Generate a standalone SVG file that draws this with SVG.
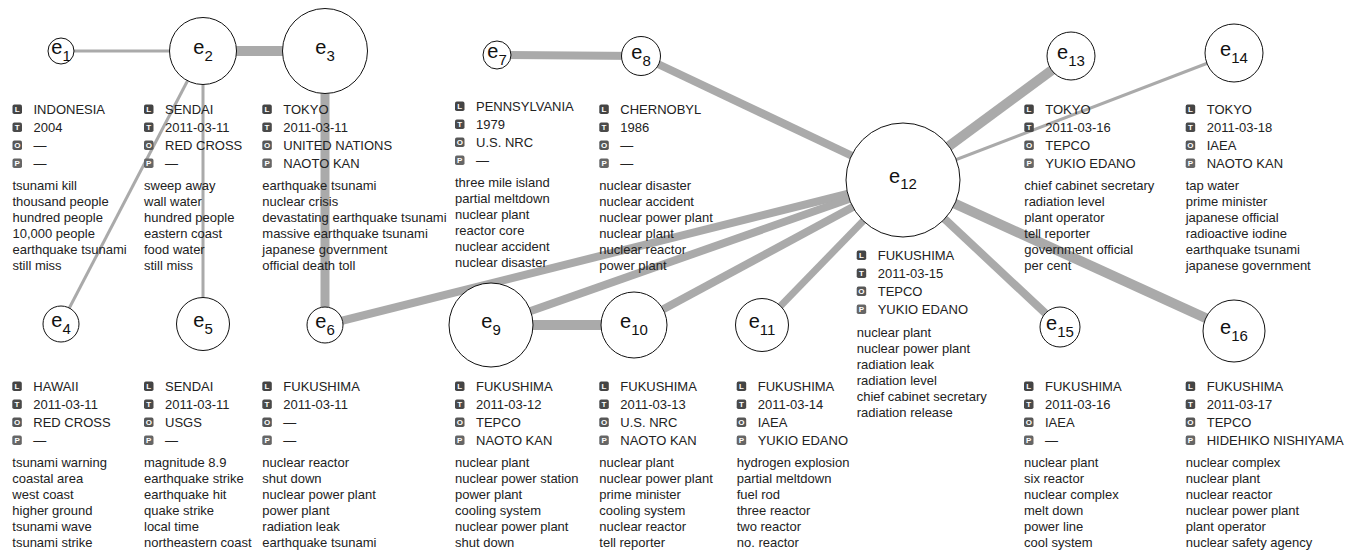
<svg xmlns="http://www.w3.org/2000/svg" width="1352" height="550" viewBox="0 0 1352 550">
<style>
.bg{fill:#fff}
.edge{stroke:#aaaaaa;stroke-linecap:butt;fill:none}
.node{fill:#fff;stroke:#111;stroke-width:1}
.lbl{font-family:"Liberation Sans",Arial,sans-serif;font-size:20px;fill:#111;text-anchor:middle}
.sub{font-size:15px}
.t{font-family:"Liberation Sans",Arial,sans-serif;font-size:13px;fill:#222}
.bL{fill:#444}.bT{fill:#4a4a4a}.bO{fill:#575757}.bP{fill:#666}
.bt{font-family:"Liberation Sans",Arial,sans-serif;font-size:8px;font-weight:bold;fill:#fff;text-anchor:middle}
</style>
<defs>
<g id="badges">
<rect class="bL" x="0" y="-9.4" width="9.5" height="9.5" rx="1.8"/><text class="bt" x="4.75" y="-1.8">L</text>
<rect class="bT" x="0" y="8.6" width="9.5" height="9.5" rx="1.8"/><text class="bt" x="4.75" y="16.2">T</text>
<rect class="bO" x="0" y="26.6" width="9.5" height="9.5" rx="1.8"/><text class="bt" x="4.75" y="34.2">O</text>
<rect class="bP" x="0" y="44.6" width="9.5" height="9.5" rx="1.8"/><text class="bt" x="4.75" y="52.2">P</text>
</g>
</defs>
<rect class="bg" x="0" y="0" width="1352" height="550"/>
<g id="connectors">
<line class="edge" stroke-width="3" x1="61" y1="51" x2="203" y2="51"/>
<line class="edge" stroke-width="10" x1="203" y1="51" x2="325" y2="51"/>
<line class="edge" stroke-width="3" x1="203" y1="51" x2="61" y2="324"/>
<line class="edge" stroke-width="3" x1="203" y1="51" x2="203" y2="324"/>
<line class="edge" stroke-width="9" x1="325" y1="51" x2="325" y2="325"/>
<line class="edge" stroke-width="8" x1="325" y1="325" x2="903" y2="180"/>
<line class="edge" stroke-width="8" x1="497" y1="55" x2="641" y2="56"/>
<line class="edge" stroke-width="8" x1="641" y1="56" x2="903" y2="180"/>
<line class="edge" stroke-width="10" x1="491" y1="325" x2="634" y2="325"/>
<line class="edge" stroke-width="8" x1="491" y1="325" x2="903" y2="180"/>
<line class="edge" stroke-width="8" x1="634" y1="325" x2="903" y2="180"/>
<line class="edge" stroke-width="7" x1="762" y1="325" x2="903" y2="180"/>
<line class="edge" stroke-width="10" x1="903" y1="180" x2="1071" y2="56"/>
<line class="edge" stroke-width="3" x1="903" y1="180" x2="1234" y2="53"/>
<line class="edge" stroke-width="8" x1="903" y1="180" x2="1060" y2="327"/>
<line class="edge" stroke-width="10" x1="903" y1="180" x2="1234" y2="331"/>
</g>

<g id="e1">
<circle class="node" cx="61" cy="51" r="13"/>
<text class="lbl" x="61" y="54">e<tspan class="sub" dy="6.5">1</tspan></text>
<g transform="translate(12.5,114)"><use href="#badges"/>
<text class="t" x="21" y="0">INDONESIA</text><text class="t" x="21" y="18">2004</text><text class="t" x="21" y="36">—</text><text class="t" x="21" y="54">—</text>
<text class="t" x="0" y="76">tsunami kill</text><text class="t" x="0" y="92">thousand people</text><text class="t" x="0" y="108">hundred people</text><text class="t" x="0" y="124">10,000 people</text><text class="t" x="0" y="140">earthquake tsunami</text><text class="t" x="0" y="156">still miss</text></g>
</g>

<g id="e2">
<circle class="node" cx="203" cy="51" r="33.5"/>
<text class="lbl" x="203" y="54">e<tspan class="sub" dy="6.5">2</tspan></text>
<g transform="translate(144,114)"><use href="#badges"/>
<text class="t" x="21" y="0">SENDAI</text><text class="t" x="21" y="18">2011-03-11</text><text class="t" x="21" y="36">RED CROSS</text><text class="t" x="21" y="54">—</text>
<text class="t" x="0" y="76">sweep away</text><text class="t" x="0" y="92">wall water</text><text class="t" x="0" y="108">hundred people</text><text class="t" x="0" y="124">eastern coast</text><text class="t" x="0" y="140">food water</text><text class="t" x="0" y="156">still miss</text></g>
</g>

<g id="e3">
<circle class="node" cx="325" cy="51" r="42.5"/>
<text class="lbl" x="325" y="54">e<tspan class="sub" dy="6.5">3</tspan></text>
<g transform="translate(262.3,114)"><use href="#badges"/>
<text class="t" x="21" y="0">TOKYO</text><text class="t" x="21" y="18">2011-03-11</text><text class="t" x="21" y="36">UNITED NATIONS</text><text class="t" x="21" y="54">NAOTO KAN</text>
<text class="t" x="0" y="76">earthquake tsunami</text><text class="t" x="0" y="92">nuclear crisis</text><text class="t" x="0" y="108">devastating earthquake tsunami</text><text class="t" x="0" y="124">massive earthquake tsunami</text><text class="t" x="0" y="140">japanese government</text><text class="t" x="0" y="156">official death toll</text></g>
</g>

<g id="e7">
<circle class="node" cx="497" cy="55" r="14"/>
<text class="lbl" x="497" y="58">e<tspan class="sub" dy="6.5">7</tspan></text>
<g transform="translate(455,111)"><use href="#badges"/>
<text class="t" x="21" y="0">PENNSYLVANIA</text><text class="t" x="21" y="18">1979</text><text class="t" x="21" y="36">U.S. NRC</text><text class="t" x="21" y="54">—</text>
<text class="t" x="0" y="76">three mile island</text><text class="t" x="0" y="92">partial meltdown</text><text class="t" x="0" y="108">nuclear plant</text><text class="t" x="0" y="124">reactor core</text><text class="t" x="0" y="140">nuclear accident</text><text class="t" x="0" y="156">nuclear disaster</text></g>
</g>

<g id="e8">
<circle class="node" cx="641" cy="56" r="19.5"/>
<text class="lbl" x="641" y="59">e<tspan class="sub" dy="6.5">8</tspan></text>
<g transform="translate(599.3,114)"><use href="#badges"/>
<text class="t" x="21" y="0">CHERNOBYL</text><text class="t" x="21" y="18">1986</text><text class="t" x="21" y="36">—</text><text class="t" x="21" y="54">—</text>
<text class="t" x="0" y="76">nuclear disaster</text><text class="t" x="0" y="92">nuclear accident</text><text class="t" x="0" y="108">nuclear power plant</text><text class="t" x="0" y="124">nuclear plant</text><text class="t" x="0" y="140">nuclear reactor</text><text class="t" x="0" y="156">power plant</text></g>
</g>

<g id="e12">
<circle class="node" cx="903" cy="180" r="57"/>
<text class="lbl" x="903" y="182.5">e<tspan class="sub" dy="6.5">12</tspan></text>
<g transform="translate(856.7,260)"><use href="#badges"/>
<text class="t" x="21" y="0">FUKUSHIMA</text><text class="t" x="21" y="18">2011-03-15</text><text class="t" x="21" y="36">TEPCO</text><text class="t" x="21" y="54">YUKIO EDANO</text>
<text class="t" x="0" y="77">nuclear plant</text><text class="t" x="0" y="93">nuclear power plant</text><text class="t" x="0" y="109">radiation leak</text><text class="t" x="0" y="125">radiation level</text><text class="t" x="0" y="141">chief cabinet secretary</text><text class="t" x="0" y="157">radiation release</text></g>
</g>

<g id="e13">
<circle class="node" cx="1071" cy="56" r="24"/>
<text class="lbl" x="1071" y="59">e<tspan class="sub" dy="6.5">13</tspan></text>
<g transform="translate(1024.3,114)"><use href="#badges"/>
<text class="t" x="21" y="0">TOKYO</text><text class="t" x="21" y="18">2011-03-16</text><text class="t" x="21" y="36">TEPCO</text><text class="t" x="21" y="54">YUKIO EDANO</text>
<text class="t" x="0" y="76">chief cabinet secretary</text><text class="t" x="0" y="92">radiation level</text><text class="t" x="0" y="108">plant operator</text><text class="t" x="0" y="124">tell reporter</text><text class="t" x="0" y="140">government official</text><text class="t" x="0" y="156">per cent</text></g>
</g>

<g id="e14">
<circle class="node" cx="1234" cy="53" r="29"/>
<text class="lbl" x="1234" y="56">e<tspan class="sub" dy="6.5">14</tspan></text>
<g transform="translate(1185.7,114)"><use href="#badges"/>
<text class="t" x="21" y="0">TOKYO</text><text class="t" x="21" y="18">2011-03-18</text><text class="t" x="21" y="36">IAEA</text><text class="t" x="21" y="54">NAOTO KAN</text>
<text class="t" x="0" y="76">tap water</text><text class="t" x="0" y="92">prime minister</text><text class="t" x="0" y="108">japanese official</text><text class="t" x="0" y="124">radioactive iodine</text><text class="t" x="0" y="140">earthquake tsunami</text><text class="t" x="0" y="156">japanese government</text></g>
</g>

<g id="e4">
<circle class="node" cx="61" cy="324" r="18"/>
<text class="lbl" x="61" y="327">e<tspan class="sub" dy="6.5">4</tspan></text>
<g transform="translate(12.3,391)"><use href="#badges"/>
<text class="t" x="21" y="0">HAWAII</text><text class="t" x="21" y="18">2011-03-11</text><text class="t" x="21" y="36">RED CROSS</text><text class="t" x="21" y="54">—</text>
<text class="t" x="0" y="76">tsunami warning</text><text class="t" x="0" y="92">coastal area</text><text class="t" x="0" y="108">west coast</text><text class="t" x="0" y="124">higher ground</text><text class="t" x="0" y="140">tsunami wave</text><text class="t" x="0" y="156">tsunami strike</text></g>
</g>

<g id="e5">
<circle class="node" cx="203" cy="324" r="26.5"/>
<text class="lbl" x="203" y="327">e<tspan class="sub" dy="6.5">5</tspan></text>
<g transform="translate(144,391)"><use href="#badges"/>
<text class="t" x="21" y="0">SENDAI</text><text class="t" x="21" y="18">2011-03-11</text><text class="t" x="21" y="36">USGS</text><text class="t" x="21" y="54">—</text>
<text class="t" x="0" y="76">magnitude 8.9</text><text class="t" x="0" y="92">earthquake strike</text><text class="t" x="0" y="108">earthquake hit</text><text class="t" x="0" y="124">quake strike</text><text class="t" x="0" y="140">local time</text><text class="t" x="0" y="156">northeastern coast</text></g>
</g>

<g id="e6">
<circle class="node" cx="325" cy="325" r="18"/>
<text class="lbl" x="325" y="328">e<tspan class="sub" dy="6.5">6</tspan></text>
<g transform="translate(262.3,391)"><use href="#badges"/>
<text class="t" x="21" y="0">FUKUSHIMA</text><text class="t" x="21" y="18">2011-03-11</text><text class="t" x="21" y="36">—</text><text class="t" x="21" y="54">—</text>
<text class="t" x="0" y="76">nuclear reactor</text><text class="t" x="0" y="92">shut down</text><text class="t" x="0" y="108">nuclear power plant</text><text class="t" x="0" y="124">power plant</text><text class="t" x="0" y="140">radiation leak</text><text class="t" x="0" y="156">earthquake tsunami</text></g>
</g>

<g id="e9">
<circle class="node" cx="491" cy="325" r="42"/>
<text class="lbl" x="491" y="328">e<tspan class="sub" dy="6.5">9</tspan></text>
<g transform="translate(455,391)"><use href="#badges"/>
<text class="t" x="21" y="0">FUKUSHIMA</text><text class="t" x="21" y="18">2011-03-12</text><text class="t" x="21" y="36">TEPCO</text><text class="t" x="21" y="54">NAOTO KAN</text>
<text class="t" x="0" y="76">nuclear plant</text><text class="t" x="0" y="92">nuclear power station</text><text class="t" x="0" y="108">power plant</text><text class="t" x="0" y="124">cooling system</text><text class="t" x="0" y="140">nuclear power plant</text><text class="t" x="0" y="156">shut down</text></g>
</g>

<g id="e10">
<circle class="node" cx="634" cy="325" r="33"/>
<text class="lbl" x="634" y="328">e<tspan class="sub" dy="6.5">10</tspan></text>
<g transform="translate(599.3,391)"><use href="#badges"/>
<text class="t" x="21" y="0">FUKUSHIMA</text><text class="t" x="21" y="18">2011-03-13</text><text class="t" x="21" y="36">U.S. NRC</text><text class="t" x="21" y="54">NAOTO KAN</text>
<text class="t" x="0" y="76">nuclear plant</text><text class="t" x="0" y="92">nuclear power plant</text><text class="t" x="0" y="108">prime minister</text><text class="t" x="0" y="124">cooling system</text><text class="t" x="0" y="140">nuclear reactor</text><text class="t" x="0" y="156">tell reporter</text></g>
</g>

<g id="e11">
<circle class="node" cx="762" cy="325" r="26.5"/>
<text class="lbl" x="762" y="328">e<tspan class="sub" dy="6.5">11</tspan></text>
<g transform="translate(736.7,391)"><use href="#badges"/>
<text class="t" x="21" y="0">FUKUSHIMA</text><text class="t" x="21" y="18">2011-03-14</text><text class="t" x="21" y="36">IAEA</text><text class="t" x="21" y="54">YUKIO EDANO</text>
<text class="t" x="0" y="76">hydrogen explosion</text><text class="t" x="0" y="92">partial meltdown</text><text class="t" x="0" y="108">fuel rod</text><text class="t" x="0" y="124">three reactor</text><text class="t" x="0" y="140">two reactor</text><text class="t" x="0" y="156">no. reactor</text></g>
</g>

<g id="e15">
<circle class="node" cx="1060" cy="327" r="20"/>
<text class="lbl" x="1060" y="330">e<tspan class="sub" dy="6.5">15</tspan></text>
<g transform="translate(1024,391)"><use href="#badges"/>
<text class="t" x="21" y="0">FUKUSHIMA</text><text class="t" x="21" y="18">2011-03-16</text><text class="t" x="21" y="36">IAEA</text><text class="t" x="21" y="54">—</text>
<text class="t" x="0" y="76">nuclear plant</text><text class="t" x="0" y="92">six reactor</text><text class="t" x="0" y="108">nuclear complex</text><text class="t" x="0" y="124">melt down</text><text class="t" x="0" y="140">power line</text><text class="t" x="0" y="156">cool system</text></g>
</g>

<g id="e16">
<circle class="node" cx="1234" cy="331" r="31"/>
<text class="lbl" x="1234" y="334">e<tspan class="sub" dy="6.5">16</tspan></text>
<g transform="translate(1185.7,391)"><use href="#badges"/>
<text class="t" x="21" y="0">FUKUSHIMA</text><text class="t" x="21" y="18">2011-03-17</text><text class="t" x="21" y="36">TEPCO</text><text class="t" x="21" y="54">HIDEHIKO NISHIYAMA</text>
<text class="t" x="0" y="76">nuclear complex</text><text class="t" x="0" y="92">nuclear plant</text><text class="t" x="0" y="108">nuclear reactor</text><text class="t" x="0" y="124">nuclear power plant</text><text class="t" x="0" y="140">plant operator</text><text class="t" x="0" y="156">nuclear safety agency</text></g>
</g>
</svg>
